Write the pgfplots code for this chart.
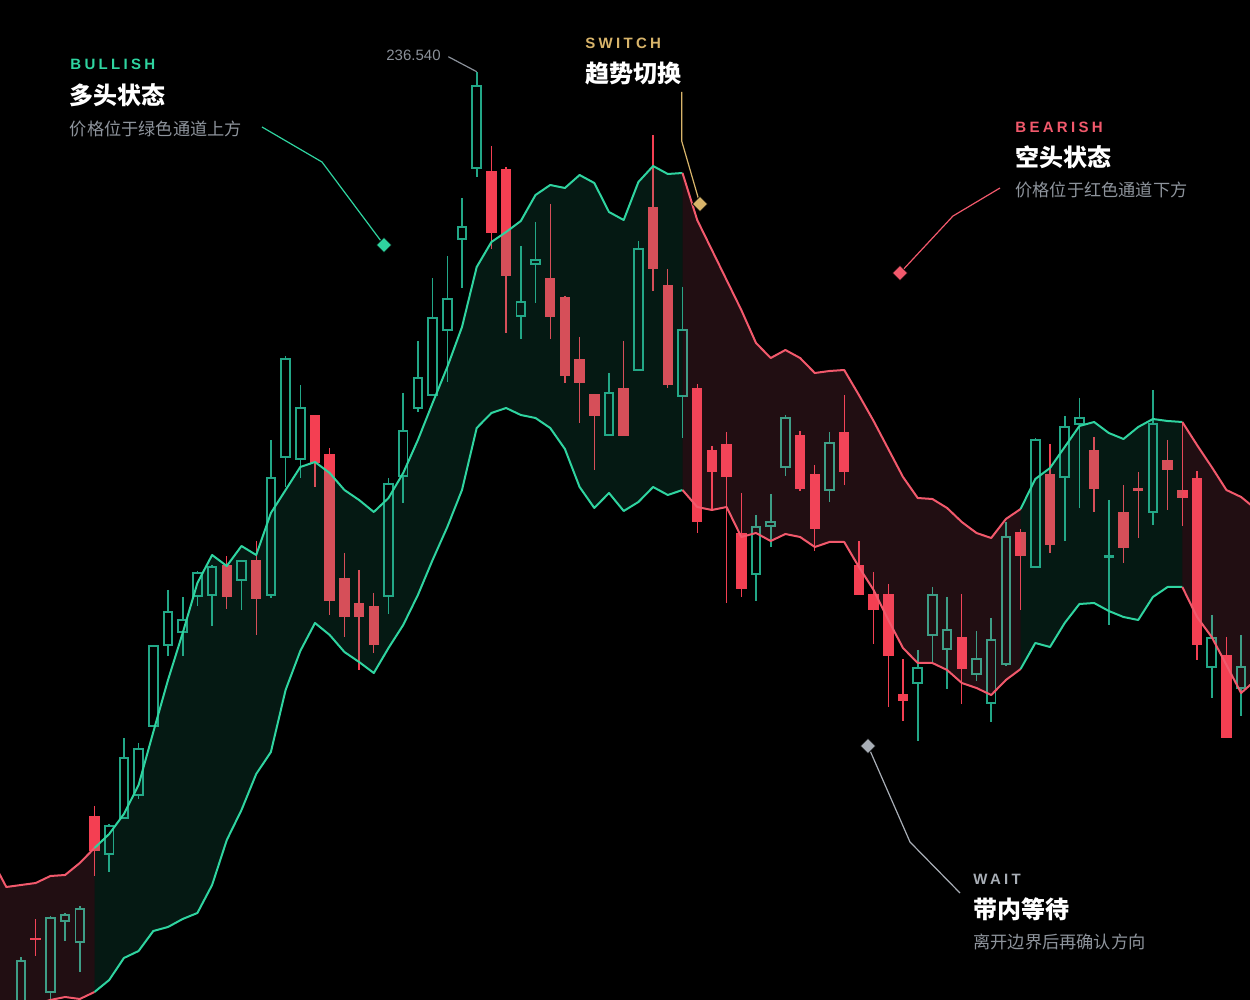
\documentclass[border=0pt]{standalone}
\usepackage{fontspec}
\setmainfont{Liberation Sans}
\newfontfamily\cjk{Noto Sans CJK SC}
\newfontfamily\lab{Liberation Sans}[LetterSpace=22]
\usepackage{pgfplots}
\pgfplotsset{compat=1.18}

\definecolor{bgreen}{HTML}{2FD4A0}
\definecolor{cgreen}{HTML}{22A787}
\definecolor{cred}{HTML}{F43F52}
\definecolor{bred}{HTML}{F2596C}
\definecolor{gfill}{HTML}{29B188}
\definecolor{rfill}{HTML}{E76681}
\definecolor{gold}{HTML}{D8B46A}
\definecolor{wgray}{HTML}{A8AEB6}
\definecolor{subc}{HTML}{8E949C}
\definecolor{pricec}{HTML}{8B919A}

% bullish candle: index, open, high, low, close (pixel rows, larger = lower price)
\newcommand{\bu}[5]{%
  \pgfmathsetmacro{\xl}{#1-0.29}\pgfmathsetmacro{\xr}{#1+0.29}%
  \addplot[cgreen, line width=0.8pt] coordinates {(#1,#3) (#1,#5)};
  \addplot[cgreen, line width=0.8pt] coordinates {(#1,#2) (#1,#4)};
  \addplot[cgreen, line width=0.95pt, line join=miter] coordinates {(\xl,#5) (\xr,#5) (\xr,#2) (\xl,#2)} -- cycle;
}
% bearish candle: index, open, high, low, close
\newcommand{\be}[5]{%
  \pgfmathsetmacro{\xl}{#1-0.36}\pgfmathsetmacro{\xr}{#1+0.36}%
  \addplot[cred, line width=0.65pt] coordinates {(#1,#3) (#1,#4)};
  \addplot[fill=cred, draw=none] coordinates {(\xl,#2) (\xr,#2) (\xr,#5) (\xl,#5)} -- cycle;
}

\begin{document}
\begin{tikzpicture}
\fill[black] (0,0) rectangle (625pt,500pt);
\begin{axis}[at={(0,0)}, anchor=south west, width=625pt, height=500pt, scale only axis,
  xmin=-1.4286, xmax=83.605, ymin=0, ymax=1000, y dir=reverse, hide axis, clip=true]

% ---------------- candles ----------------
\bu{0}{1005}{957}{1015}{961}
\be{1}{938}{919}{956}{940}
\bu{2}{992}{916}{1002}{918}
\bu{3}{921}{913}{941}{915}
\bu{4}{942}{906}{972}{909}
\be{5}{816}{806}{876}{851}
\bu{6}{854}{824}{872}{826}
\bu{7}{818}{738}{819}{758}
\bu{8}{795}{743}{799}{749}
\bu{9}{726}{645}{727}{646}
\bu{10}{645}{590}{656}{612}
\bu{11}{632}{597}{656}{620}
\bu{12}{596}{571}{606}{573}
\bu{13}{595}{565}{626}{567}
\be{14}{565}{556}{609}{597}
\bu{15}{580}{560}{610}{561}
\be{16}{560}{541}{635}{599}
\bu{17}{595}{440}{598}{478}
\bu{18}{457}{356}{487}{359}
\bu{19}{459}{385}{478}{408}
\be{20}{415}{415}{487}{463}
\be{21}{454}{448}{615}{601}
\be{22}{578}{553}{637}{617}
\be{23}{603}{570}{670}{617}
\be{24}{606}{593}{653}{645}
\bu{25}{596}{478}{614}{484}
\bu{26}{476}{393}{503}{431}
\bu{27}{408}{341}{412}{378}
\bu{28}{395}{278}{396}{318}
\bu{29}{330}{256}{382}{299}
\bu{30}{239}{198}{288}{227}
\bu{31}{168}{72}{177}{86}
\be{32}{171}{146}{249}{233}
\be{33}{169}{167}{333}{276}
\bu{34}{316}{246}{339}{302}
\bu{35}{264}{222}{303}{260}
\be{36}{278}{204}{339}{317}
\be{37}{297}{296}{383}{376}
\be{38}{359}{337}{423}{383}
\be{39}{394}{394}{470}{416}
\bu{40}{435}{373}{435}{393}
\be{41}{388}{341}{436}{436}
\bu{42}{370}{241}{371}{249}
\be{43}{207}{135}{291}{269}
\be{44}{285}{269}{388}{385}
\bu{45}{396}{287}{438}{330}
\be{46}{388}{384}{533}{522}
\be{47}{450}{446}{510}{472}
\be{48}{444}{432}{603}{477}
\be{49}{533}{493}{597}{589}
\bu{50}{574}{515}{601}{527}
\bu{51}{526}{494}{547}{522}
\bu{52}{467}{415}{476}{418}
\be{53}{435}{431}{491}{489}
\be{54}{474}{465}{551}{529}
\bu{55}{490}{432}{502}{443}
\be{56}{432}{395}{485}{472}
\be{57}{565}{541}{595}{595}
\be{58}{594}{572}{644}{610}
\be{59}{594}{584}{707}{656}
\be{60}{694}{659}{721}{701}
\bu{61}{683}{650}{741}{668}
\bu{62}{635}{587}{663}{595}
\bu{63}{649}{597}{689}{630}
\be{64}{637}{594}{704}{669}
\bu{65}{674}{631}{681}{659}
\bu{66}{703}{618}{722}{640}
\bu{67}{664}{522}{666}{537}
\be{68}{532}{529}{610}{556}
\bu{69}{567}{438}{567}{440}
\be{70}{474}{444}{553}{545}
\bu{71}{477}{416}{541}{427}
\bu{72}{424}{398}{508}{418}
\be{73}{450}{437}{512}{489}
\bu{74}{557}{500}{625}{556}
\be{75}{512}{485}{563}{548}
\be{76}{488}{472}{538}{491}
\bu{77}{512}{390}{525}{424}
\be{78}{460}{440}{510}{470}
\be{79}{490}{422}{526}{498}
\be{80}{478}{471}{660}{645}
\bu{81}{667}{615}{698}{638}
\be{82}{655}{637}{738}{738}
\bu{83}{688}{635}{716}{667}

% ---------------- channel fills ----------------
\addplot[fill=rfill, fill opacity=0.147, draw=none] coordinates {
 (-2,859)(-1,887)(0,885)(1,883)(2,876)(3,875)(4,863)(5,848)
 (5,992)(4,999)(3,997)(2,1000)(1,1004)(0,1008)(-1,1010)(-2,1012)} -- cycle;
\addplot[fill=gfill, fill opacity=0.147, draw=none] coordinates {
 (5,848)(6,834)(7,814)(8,785)(9,732)(10,680)(11,633)(12,583)(13,555)(14,566)(15,546)(16,555)(17,513)(18,490)(19,467)(20,462)(21,473)(22,490)(23,500)(24,512)(25,498)(26,473)(27,440)(28,403)(29,367)(30,327)(31,267)(32,242)(33,232)(34,221)(35,195)(36,185)(37,188)(38,175)(39,183)(40,212)(41,220)(42,182)(43,166)(44,174)(45,173)
 (45,490)(44,495)(43,487)(42,502)(41,511)(40,493)(39,508)(38,487)(37,449)(36,428)(35,418)(34,415)(33,408)(32,413)(31,428)(30,490)(29,527)(28,560)(27,595)(26,625)(25,648)(24,673)(23,662)(22,652)(21,635)(20,623)(19,651)(18,690)(17,752)(16,774)(15,810)(14,840)(13,885)(12,913)(11,919)(10,927)(9,931)(8,951)(7,958)(6,980)(5,992)} -- cycle;
\addplot[fill=rfill, fill opacity=0.147, draw=none] coordinates {
 (45,173)(46,220)(47,250)(48,280)(49,310)(50,343)(51,358)(52,350)(53,358)(54,373)(55,371)(56,370)(57,395)(58,421)(59,449)(60,477)(61,498)(62,499)(63,508)(64,522)(65,533)(66,538)(67,519)(68,509)
 (68,669)(67,680)(66,695)(65,688)(64,683)(63,670)(62,663)(61,663)(60,648)(59,620)(58,590)(57,567)(56,542)(55,542)(54,547)(53,537)(52,534)(51,541)(50,533)(49,537)(48,507)(47,510)(46,507)(45,490)} -- cycle;
\addplot[fill=gfill, fill opacity=0.147, draw=none] coordinates {
 (68,509)(69,479)(70,468)(71,447)(72,426)(73,422)(74,433)(75,439)(76,427)(77,419)(78,421)(79,422)
 (79,587)(78,587)(77,597)(76,620)(75,617)(74,611)(73,603)(72,604)(71,623)(70,647)(69,643)(68,669)} -- cycle;
\addplot[fill=rfill, fill opacity=0.147, draw=none] coordinates {
 (79,422)(80,445)(81,467)(82,490)(83,497)(84,509)
 (84,680)(83,693)(82,665)(81,637)(80,617)(79,587)} -- cycle;

% ---------------- channel lines ----------------
\pgfplotsset{band/.style={line width=1pt, line join=round}}
\addplot[band, bred] coordinates {(-2,859)(-1,887)(0,885)(1,883)(2,876)(3,875)(4,863)(5,848)};
\addplot[band, bred] coordinates {(-2,1012)(-1,1010)(0,1008)(1,1004)(2,1000)(3,997)(4,999)(5,992)};
\addplot[band, bgreen] coordinates {(5,848)(6,834)(7,814)(8,785)(9,732)(10,680)(11,633)(12,583)(13,555)(14,566)(15,546)(16,555)(17,513)(18,490)(19,467)(20,462)(21,473)(22,490)(23,500)(24,512)(25,498)(26,473)(27,440)(28,403)(29,367)(30,327)(31,267)(32,242)(33,232)(34,221)(35,195)(36,185)(37,188)(38,175)(39,183)(40,212)(41,220)(42,182)(43,166)(44,174)(45,173)};
\addplot[band, bgreen] coordinates {(5,992)(6,980)(7,958)(8,951)(9,931)(10,927)(11,919)(12,913)(13,885)(14,840)(15,810)(16,774)(17,752)(18,690)(19,651)(20,623)(21,635)(22,652)(23,662)(24,673)(25,648)(26,625)(27,595)(28,560)(29,527)(30,490)(31,428)(32,413)(33,408)(34,415)(35,418)(36,428)(37,449)(38,487)(39,508)(40,493)(41,511)(42,502)(43,487)(44,495)(45,490)};
\addplot[band, bred] coordinates {(45,173)(46,220)(47,250)(48,280)(49,310)(50,343)(51,358)(52,350)(53,358)(54,373)(55,371)(56,370)(57,395)(58,421)(59,449)(60,477)(61,498)(62,499)(63,508)(64,522)(65,533)(66,538)(67,519)(68,509)};
\addplot[band, bred] coordinates {(45,490)(46,507)(47,510)(48,507)(49,537)(50,533)(51,541)(52,534)(53,537)(54,547)(55,542)(56,542)(57,567)(58,590)(59,620)(60,648)(61,663)(62,663)(63,670)(64,683)(65,688)(66,695)(67,680)(68,669)};
\addplot[band, bgreen] coordinates {(68,509)(69,479)(70,468)(71,447)(72,426)(73,422)(74,433)(75,439)(76,427)(77,419)(78,421)(79,422)};
\addplot[band, bgreen] coordinates {(68,669)(69,643)(70,647)(71,623)(72,604)(73,603)(74,611)(75,617)(76,620)(77,597)(78,587)(79,587)};
\addplot[band, bred] coordinates {(79,422)(80,445)(81,467)(82,490)(83,497)(84,509)};
\addplot[band, bred] coordinates {(79,587)(80,617)(81,637)(82,665)(83,693)(84,680)};

% ---------------- annotations ----------------
\pgfplotsset{dmark/.style={only marks, mark=square*, mark size=2.7pt, mark options={rotate=45, draw=none, fill=#1}}}
\addplot[bgreen, line width=0.6pt] coordinates {(16.395,127)(20.476,162)(24.694,245)};
\addplot[dmark=bgreen] coordinates {(24.694,245)};
\addplot[pricec, line width=0.6pt] coordinates {(29.068,56.7)(31.0,71.7)};
\addplot[gold, line width=0.6pt] coordinates {(44.946,92)(44.946,141)(46.19,204)};
\addplot[dmark=gold] coordinates {(46.19,204)};
\addplot[bred, line width=0.6pt] coordinates {(66.599,188)(63.401,216)(59.796,273)};
\addplot[dmark=bred] coordinates {(59.796,273)};
\addplot[wgray, line width=0.6pt] coordinates {(63.878,893)(60.476,842)(57.619,746)};
\addplot[dmark=wgray] coordinates {(57.619,746)};

\node[anchor=base west, inner sep=0, text=pricec, font=\fontsize{7.5pt}{9pt}\selectfont] at (axis cs:24.83,60.7) {236.540};

\node[anchor=base west, inner sep=0, text=bgreen, font=\lab\bfseries\fontsize{7.5pt}{9pt}\selectfont] at (axis cs:3.333,70) {BULLISH};
\node[anchor=base west, inner sep=0, text=white, font=\cjk\bfseries\fontsize{12pt}{14pt}\selectfont] at (axis cs:3.3,104.5) {多头状态};
\node[anchor=base west, inner sep=0, text=subc, font=\cjk\fontsize{8.6pt}{10pt}\selectfont] at (axis cs:3.3,136) {价格位于绿色通道上方};

\node[anchor=base west, inner sep=0, text=gold, font=\lab\bfseries\fontsize{7.5pt}{9pt}\selectfont] at (axis cs:38.367,48.3) {SWITCH};
\node[anchor=base west, inner sep=0, text=white, font=\cjk\bfseries\fontsize{12pt}{14pt}\selectfont] at (axis cs:38.367,83) {趋势切换};

\node[anchor=base west, inner sep=0, text=bred, font=\lab\bfseries\fontsize{7.5pt}{9pt}\selectfont] at (axis cs:67.619,132.5) {BEARISH};
\node[anchor=base west, inner sep=0, text=white, font=\cjk\bfseries\fontsize{12pt}{14pt}\selectfont] at (axis cs:67.619,166.5) {空头状态};
\node[anchor=base west, inner sep=0, text=subc, font=\cjk\fontsize{8.6pt}{10pt}\selectfont] at (axis cs:67.619,197) {价格位于红色通道下方};

\node[anchor=base west, inner sep=0, text=wgray, font=\lab\bfseries\fontsize{7.5pt}{9pt}\selectfont] at (axis cs:64.762,884.5) {WAIT};
\node[anchor=base west, inner sep=0, text=white, font=\cjk\bfseries\fontsize{12pt}{14pt}\selectfont] at (axis cs:64.762,918) {带内等待};
\node[anchor=base west, inner sep=0, text=subc, font=\cjk\fontsize{8.6pt}{10pt}\selectfont] at (axis cs:64.762,949) {离开边界后再确认方向};

\end{axis}
\end{tikzpicture}
\end{document}
